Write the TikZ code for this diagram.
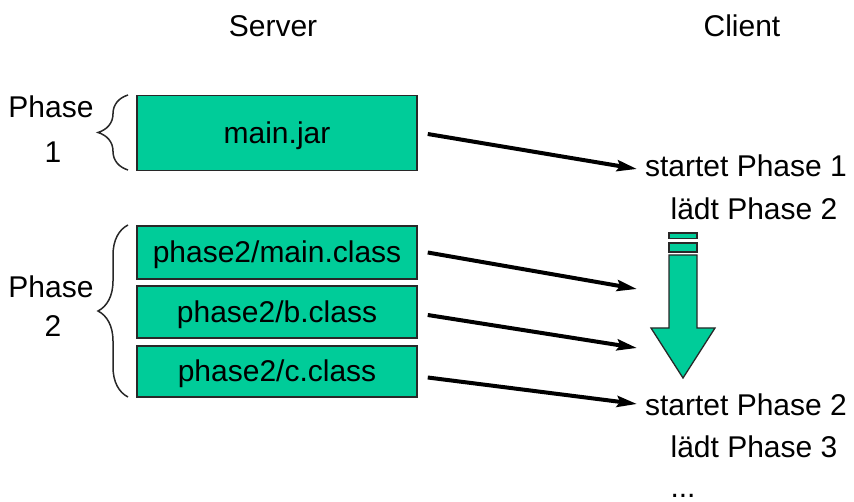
\documentclass[tikz,border=0pt]{standalone}
\usepackage{fontspec}
\setmainfont{Liberation Sans}
\usetikzlibrary{arrows.meta,decorations.pathreplacing}
\definecolor{jgreen}{RGB}{0,204,153}
\definecolor{edge}{RGB}{40,40,40}
\tikzset{
  txt/.style={font=\fontsize{30}{34}\selectfont, inner sep=0pt, anchor=base},
  filebox/.style={draw=edge, line width=1.5pt, fill=jgreen, minimum width=280pt,
    inner sep=0pt, text height=21pt, text depth=0pt,
    font=\fontsize{30}{34}\selectfont},
  conn/.style={line width=4pt, -{Stealth[length=20pt,width=11pt,inset=3pt]}},
  bracestyle/.style={draw=edge, line width=1.5pt, decorate,
    decoration={brace, amplitude=30pt, aspect=0.5}},
}
\begin{document}
\begin{tikzpicture}[x=1pt,y=-1pt]
\useasboundingbox (0,0) rectangle (854,502);

% headings
\node[txt] (server) at (273,37) {Server};
\node[txt] (client) at (742,37) {Client};

% server files
\node[filebox, minimum height=75pt] (jar) at (277,133) {main.jar};
\node[filebox, minimum height=53pt] (mainc) at (277,252.5) {phase2/main.class};
\node[filebox, minimum height=52pt] (bc) at (277,312) {phase2/b.class};
\node[filebox, minimum height=51pt] (cc) at (277,371.5) {phase2/c.class};

% phase labels
\node[txt] (ph1) at (51,118) {Phase};
\node[txt] (ph1n) at (53,163) {1};
\node[txt] (ph2) at (51,298) {Phase};
\node[txt] (ph2n) at (53,337) {2};

% braces
\draw[bracestyle] (128,170) -- (128,95);
\draw[bracestyle] (128,397) -- (128,225);

% client texts
\node[txt] (st1) at (746,177) {startet Phase 1};
\node[txt] (ld2) at (754,220) {lädt Phase 2};
\node[txt] (st2) at (746,415) {startet Phase 2};
\node[txt] (ld3) at (754,457) {lädt Phase 3};
\node[txt] (dots) at (683,497) {...};

% arrow end points
\coordinate (e1) at (637,169);
\coordinate (e2) at (637,289);
\coordinate (e3) at (637,348);
\coordinate (e4) at (637,404);

\draw[conn] ([xshift=10pt,yshift=-1pt]jar.east) -- (e1);
\draw[conn] ([xshift=10pt]mainc.east) -- (e2);
\draw[conn] ([xshift=10pt,yshift=-3pt]bc.east) -- (e3);
\draw[conn] ([xshift=10pt,yshift=-6pt]cc.east) -- (e4);

% big progress arrow
\draw[draw=edge, line width=1.3pt, fill=jgreen]
  (669,233) rectangle (697,238.5);
\draw[draw=edge, line width=1.3pt, fill=jgreen]
  (669,243) rectangle (697,252);
\draw[draw=edge, line width=1.3pt, fill=jgreen, line join=miter]
  (669,255) -- (697,255) -- (697,328) -- (715,328) -- (683,378)
  -- (651,328) -- (669,328) -- cycle;
\end{tikzpicture}
\end{document}
